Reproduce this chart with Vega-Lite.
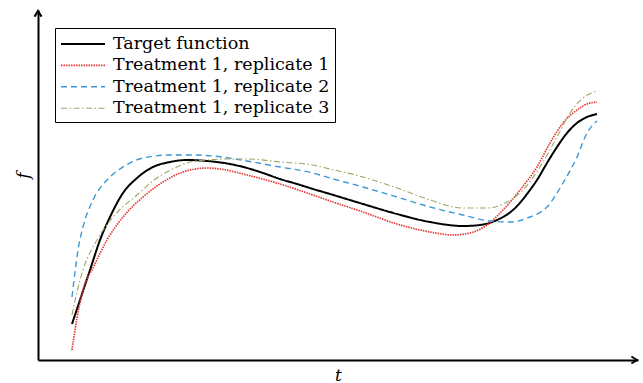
{
  "$schema": "https://vega.github.io/schema/vega-lite/v6.json",
  "width": 600,
  "height": 350,
  "autosize": {"type": "none"},
  "padding": {"left": 38, "top": 10, "right": 5, "bottom": 23},
  "config": {
    "view": {"stroke": null},
    "font": "DejaVu Serif",
    "legend": {
      "orient": "none",
      "legendX": 17,
      "legendY": 18,
      "strokeColor": "black",
      "fillColor": "white",
      "padding": 5,
      "cornerRadius": 0,
      "symbolType": "M-1,0L3.4,0",
      "symbolSize": 400,
      "labelFont": "DejaVu Serif",
      "labelFontSize": 17.5,
      "labelColor": "black",
      "labelLimit": 0,
      "labelOffset": 31,
      "rowPadding": 1.4
    }
  },
  "datasets": {
    "curves": [
      {"series": "Target function", "t": 34, "f": 36},
      {"series": "Target function", "t": 43, "f": 63},
      {"series": "Target function", "t": 52, "f": 90},
      {"series": "Target function", "t": 62, "f": 120},
      {"series": "Target function", "t": 72, "f": 143},
      {"series": "Target function", "t": 85, "f": 167},
      {"series": "Target function", "t": 99, "f": 182},
      {"series": "Target function", "t": 115, "f": 193},
      {"series": "Target function", "t": 132, "f": 198},
      {"series": "Target function", "t": 149, "f": 200},
      {"series": "Target function", "t": 169, "f": 199},
      {"series": "Target function", "t": 192, "f": 196},
      {"series": "Target function", "t": 209, "f": 192},
      {"series": "Target function", "t": 225, "f": 187},
      {"series": "Target function", "t": 242, "f": 181},
      {"series": "Target function", "t": 259, "f": 176},
      {"series": "Target function", "t": 275, "f": 171},
      {"series": "Target function", "t": 292, "f": 166},
      {"series": "Target function", "t": 325, "f": 156},
      {"series": "Target function", "t": 359, "f": 146},
      {"series": "Target function", "t": 392, "f": 138},
      {"series": "Target function", "t": 425, "f": 134},
      {"series": "Target function", "t": 442, "f": 135},
      {"series": "Target function", "t": 459, "f": 140},
      {"series": "Target function", "t": 475, "f": 150},
      {"series": "Target function", "t": 492, "f": 170},
      {"series": "Target function", "t": 499, "f": 180},
      {"series": "Target function", "t": 509, "f": 197},
      {"series": "Target function", "t": 519, "f": 213},
      {"series": "Target function", "t": 529, "f": 227},
      {"series": "Target function", "t": 539, "f": 237},
      {"series": "Target function", "t": 549, "f": 243},
      {"series": "Target function", "t": 559, "f": 246},

      {"series": "Treatment 1, replicate 1", "t": 34, "f": 10},
      {"series": "Treatment 1, replicate 1", "t": 39, "f": 42},
      {"series": "Treatment 1, replicate 1", "t": 45, "f": 70},
      {"series": "Treatment 1, replicate 1", "t": 56, "f": 94},
      {"series": "Treatment 1, replicate 1", "t": 69, "f": 120},
      {"series": "Treatment 1, replicate 1", "t": 85, "f": 143},
      {"series": "Treatment 1, replicate 1", "t": 105, "f": 163},
      {"series": "Treatment 1, replicate 1", "t": 125, "f": 178},
      {"series": "Treatment 1, replicate 1", "t": 145, "f": 188},
      {"series": "Treatment 1, replicate 1", "t": 169, "f": 192},
      {"series": "Treatment 1, replicate 1", "t": 182, "f": 191},
      {"series": "Treatment 1, replicate 1", "t": 209, "f": 185},
      {"series": "Treatment 1, replicate 1", "t": 242, "f": 176},
      {"series": "Treatment 1, replicate 1", "t": 275, "f": 165},
      {"series": "Treatment 1, replicate 1", "t": 292, "f": 159},
      {"series": "Treatment 1, replicate 1", "t": 325, "f": 148},
      {"series": "Treatment 1, replicate 1", "t": 359, "f": 136},
      {"series": "Treatment 1, replicate 1", "t": 392, "f": 128},
      {"series": "Treatment 1, replicate 1", "t": 415, "f": 125},
      {"series": "Treatment 1, replicate 1", "t": 432, "f": 127},
      {"series": "Treatment 1, replicate 1", "t": 449, "f": 135},
      {"series": "Treatment 1, replicate 1", "t": 465, "f": 150},
      {"series": "Treatment 1, replicate 1", "t": 482, "f": 170},
      {"series": "Treatment 1, replicate 1", "t": 499, "f": 193},
      {"series": "Treatment 1, replicate 1", "t": 512, "f": 217},
      {"series": "Treatment 1, replicate 1", "t": 525, "f": 237},
      {"series": "Treatment 1, replicate 1", "t": 539, "f": 250},
      {"series": "Treatment 1, replicate 1", "t": 549, "f": 256},
      {"series": "Treatment 1, replicate 1", "t": 559, "f": 258},

      {"series": "Treatment 1, replicate 2", "t": 34, "f": 63},
      {"series": "Treatment 1, replicate 2", "t": 37, "f": 88},
      {"series": "Treatment 1, replicate 2", "t": 40, "f": 110},
      {"series": "Treatment 1, replicate 2", "t": 45, "f": 133},
      {"series": "Treatment 1, replicate 2", "t": 55, "f": 160},
      {"series": "Treatment 1, replicate 2", "t": 69, "f": 180},
      {"series": "Treatment 1, replicate 2", "t": 85, "f": 193},
      {"series": "Treatment 1, replicate 2", "t": 105, "f": 202},
      {"series": "Treatment 1, replicate 2", "t": 132, "f": 205},
      {"series": "Treatment 1, replicate 2", "t": 152, "f": 205},
      {"series": "Treatment 1, replicate 2", "t": 175, "f": 204},
      {"series": "Treatment 1, replicate 2", "t": 209, "f": 199},
      {"series": "Treatment 1, replicate 2", "t": 242, "f": 193},
      {"series": "Treatment 1, replicate 2", "t": 275, "f": 187},
      {"series": "Treatment 1, replicate 2", "t": 292, "f": 182},
      {"series": "Treatment 1, replicate 2", "t": 325, "f": 173},
      {"series": "Treatment 1, replicate 2", "t": 359, "f": 163},
      {"series": "Treatment 1, replicate 2", "t": 392, "f": 153},
      {"series": "Treatment 1, replicate 2", "t": 425, "f": 145},
      {"series": "Treatment 1, replicate 2", "t": 452, "f": 139},
      {"series": "Treatment 1, replicate 2", "t": 472, "f": 138},
      {"series": "Treatment 1, replicate 2", "t": 492, "f": 143},
      {"series": "Treatment 1, replicate 2", "t": 509, "f": 153},
      {"series": "Treatment 1, replicate 2", "t": 525, "f": 177},
      {"series": "Treatment 1, replicate 2", "t": 539, "f": 203},
      {"series": "Treatment 1, replicate 2", "t": 549, "f": 227},
      {"series": "Treatment 1, replicate 2", "t": 559, "f": 239},

      {"series": "Treatment 1, replicate 3", "t": 34, "f": 45},
      {"series": "Treatment 1, replicate 3", "t": 39, "f": 68},
      {"series": "Treatment 1, replicate 3", "t": 45, "f": 90},
      {"series": "Treatment 1, replicate 3", "t": 59, "f": 120},
      {"series": "Treatment 1, replicate 3", "t": 75, "f": 143},
      {"series": "Treatment 1, replicate 3", "t": 99, "f": 165},
      {"series": "Treatment 1, replicate 3", "t": 119, "f": 182},
      {"series": "Treatment 1, replicate 3", "t": 139, "f": 193},
      {"series": "Treatment 1, replicate 3", "t": 152, "f": 198},
      {"series": "Treatment 1, replicate 3", "t": 169, "f": 200},
      {"series": "Treatment 1, replicate 3", "t": 190, "f": 201},
      {"series": "Treatment 1, replicate 3", "t": 209, "f": 201},
      {"series": "Treatment 1, replicate 3", "t": 242, "f": 198},
      {"series": "Treatment 1, replicate 3", "t": 275, "f": 195},
      {"series": "Treatment 1, replicate 3", "t": 292, "f": 191},
      {"series": "Treatment 1, replicate 3", "t": 325, "f": 183},
      {"series": "Treatment 1, replicate 3", "t": 359, "f": 172},
      {"series": "Treatment 1, replicate 3", "t": 392, "f": 160},
      {"series": "Treatment 1, replicate 3", "t": 425, "f": 152},
      {"series": "Treatment 1, replicate 3", "t": 449, "f": 152},
      {"series": "Treatment 1, replicate 3", "t": 469, "f": 158},
      {"series": "Treatment 1, replicate 3", "t": 485, "f": 170},
      {"series": "Treatment 1, replicate 3", "t": 502, "f": 193},
      {"series": "Treatment 1, replicate 3", "t": 519, "f": 223},
      {"series": "Treatment 1, replicate 3", "t": 532, "f": 247},
      {"series": "Treatment 1, replicate 3", "t": 545, "f": 262},
      {"series": "Treatment 1, replicate 3", "t": 559, "f": 269}
    ],
    "arrowRight": [{"t": 599, "f": 0}],
    "arrowUp": [{"t": 0, "f": 349}]
  },
  "layer": [
    {
      "data": {"name": "curves"},
      "mark": {"type": "line", "interpolate": "monotone"},
      "encoding": {
        "x": {
          "field": "t",
          "type": "quantitative",
          "scale": {"domain": [0, 600], "nice": false, "zero": false},
          "axis": {
            "title": "t",
            "titleFont": "DejaVu Serif",
            "titleFontStyle": "italic",
            "titleFontWeight": "normal",
            "titleFontSize": 17,
            "titleColor": "black",
            "titlePadding": 7,
            "domainColor": "black",
            "domainWidth": 2,
            "ticks": false,
            "labels": false,
            "grid": false
          }
        },
        "y": {
          "field": "f",
          "type": "quantitative",
          "scale": {"domain": [0, 350], "nice": false, "zero": false},
          "axis": {
            "title": "f",
            "titleFont": "DejaVu Serif",
            "titleFontStyle": "italic",
            "titleFontWeight": "normal",
            "titleFontSize": 17,
            "titleColor": "black",
            "titlePadding": 6,
            "titleY": 165,
            "domainColor": "black",
            "domainWidth": 2,
            "ticks": false,
            "labels": false,
            "grid": false
          }
        },
        "color": {
          "field": "series",
          "type": "nominal",
          "scale": {
            "domain": ["Target function", "Treatment 1, replicate 1", "Treatment 1, replicate 2", "Treatment 1, replicate 3"],
            "range": ["#000000", "#e53a35", "#3c98d4", "#9ea666"]
          },
          "legend": {"title": null}
        },
        "strokeDash": {
          "field": "series",
          "type": "nominal",
          "scale": {
            "domain": ["Target function", "Treatment 1, replicate 1", "Treatment 1, replicate 2", "Treatment 1, replicate 3"],
            "range": [[1, 0], [1.5, 1], [6, 4], [6, 2.5, 1.5, 2.5]]
          },
          "legend": {"title": null}
        },
        "strokeWidth": {
          "field": "series",
          "type": "nominal",
          "scale": {
            "domain": ["Target function", "Treatment 1, replicate 1", "Treatment 1, replicate 2", "Treatment 1, replicate 3"],
            "range": [2, 1.1, 1.3, 1.3]
          },
          "legend": {"title": null}
        }
      }
    },
    {
      "data": {"name": "arrowRight"},
      "mark": {"type": "point", "filled": false, "shape": "M-1.6,-1L0,0L-1.6,1", "size": 49, "strokeWidth": 2, "color": "black", "opacity": 1},
      "encoding": {
        "x": {"field": "t", "type": "quantitative"},
        "y": {"field": "f", "type": "quantitative"}
      }
    },
    {
      "data": {"name": "arrowUp"},
      "mark": {"type": "point", "filled": false, "shape": "M-1,1.6L0,0L1,1.6", "size": 49, "strokeWidth": 2, "color": "black", "opacity": 1},
      "encoding": {
        "x": {"field": "t", "type": "quantitative"},
        "y": {"field": "f", "type": "quantitative"}
      }
    }
  ]
}
